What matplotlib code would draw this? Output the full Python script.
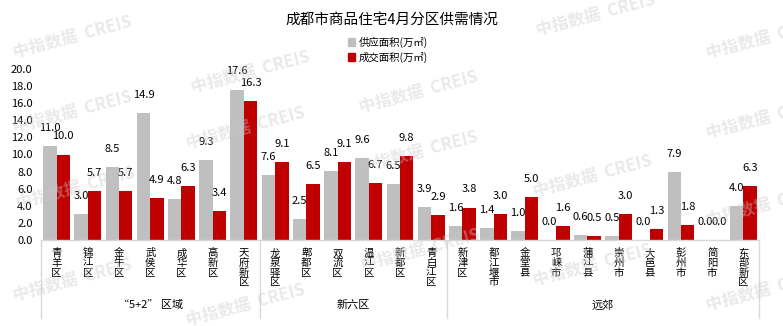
import matplotlib
matplotlib.use("Agg")
import matplotlib.pyplot as plt
import matplotlib.transforms as mtransforms
from matplotlib.patches import Rectangle
import numpy as np

plt.rcParams['font.family'] = ['Noto Sans CJK SC', 'DejaVu Sans']

# District names, grouped
groups = ["“5+2” 区域", "新六区", "远郊"]
group_sizes = [7, 6, 10]
districts = ["青羊区", "锦江区", "金牛区", "武侯区", "成华区", "高新区", "天府新区",
             "龙泉驿区", "郫都区", "双流区", "温江区", "新都区", "青白江区",
             "新津区", "都江堰市", "金堂县", "邛崃市", "蒲江县", "崇州市", "大邑县",
             "彭州市", "简阳市", "东部新区"]
# Supply and transaction area (10k m²)
supply = [11.0, 3.0, 8.5, 14.9, 4.8, 9.3, 17.6,
          7.6, 2.5, 8.1, 9.6, 6.5, 3.9,
          1.6, 1.4, 1.0, 0.0, 0.6, 0.5, 0.0, 7.9, 0.0, 4.0]
deal = [10.0, 5.7, 5.7, 4.9, 6.3, 3.4, 16.3,
        9.1, 6.5, 9.1, 6.7, 9.8, 2.9,
        3.8, 3.0, 5.0, 1.6, 0.5, 3.0, 1.3, 1.8, 0.0, 6.3]
yticks = [0, 2, 4, 6, 8, 10, 12, 14, 16, 18, 20]
series_names = ["供应面积(万㎡)", "成交面积(万㎡)"]
title = "成都市商品住宅4月分区供需情况"

W, H = 783, 326
fig = plt.figure(figsize=(W / 100, H / 100), dpi=100)
ax = fig.add_axes([41 / W, 1 - 240 / H, (759 - 41) / W, 171 / H])

gray = "#BFBFBF"
red = "#C00000"
bw = 0.43
x = np.arange(len(districts))
b1 = ax.bar(x - bw / 2, supply, bw, color=gray, zorder=2)
b2 = ax.bar(x + bw / 2, deal, bw, color=red, zorder=2)

for bars, vals in ((b1, supply), (b2, deal)):
    for rect, v in zip(bars, vals):
        ax.annotate(f"{v:.1f}", (rect.get_x() + rect.get_width() / 2, v),
                    xytext=(0, 13), textcoords="offset points",
                    ha="center", va="center", fontsize=8, color="#000000",
                    annotation_clip=False)

ax.set_xlim(-0.5, len(districts) - 0.5)
ax.set_ylim(0, 20)
ax.set_yticks(yticks)
ax.set_yticklabels([f"{t:.1f}" for t in yticks], fontsize=8)
ax.tick_params(axis="y", length=0, pad=6)
ax.set_xticks(x)
ax.set_xticklabels(["\n".join(d) for d in districts], fontsize=7.5,
                   linespacing=0.95, va="top")
ax.tick_params(axis="x", length=0, pad=6)
for s in ("left", "right", "top"):
    ax.spines[s].set_visible(False)
ax.spines["bottom"].set_color("#D9D9D9")
ax.spines["bottom"].set_linewidth(1.0)

# Group separators and group names below the axis
trans = mtransforms.blended_transform_factory(ax.transData, ax.transAxes)
bounds = np.cumsum([0] + group_sizes) - 0.5
for b in bounds:
    ax.plot([b, b], [0, -0.455], color="#D9D9D9", lw=1.0, transform=trans,
            clip_on=False)
for g, lo, hi in zip(groups, bounds[:-1], bounds[1:]):
    ax.text((lo + hi) / 2, -0.38, g, transform=trans, ha="center", va="center",
            fontsize=8)

fig.text(0.5, 1 - 20 / H, title, ha="center", va="center", fontsize=10.5)

# Legend
for i, (name, c) in enumerate(zip(series_names, (gray, red))):
    yc = 42 + 15 * i
    fig.patches.append(Rectangle((348 / W, 1 - (yc + 4) / H), 7 / W, 8 / H,
                                 transform=fig.transFigure, color=c))
    fig.text(359 / W, 1 - yc / H, name, ha="left", va="center", fontsize=7.5)

# Watermark
marks = [(72, 37), (250, 72), (418, 92), (595, 15), (765, 38),
         (72, 112), (245, 128), (418, 152), (765, 118),
         (75, 188), (592, 176), (765, 205), (245, 305),
         (72, 280), (592, 265), (765, 290), (420, 250)]
for mx, my in marks:
    fig.text(mx / W, 1 - my / H, "中指数据  CREIS", ha="center", va="center",
             rotation=15, fontsize=12, fontweight="bold", color="#C8C8C8",
             alpha=0.4, zorder=10)

fig.savefig("out.png", dpi=100)
